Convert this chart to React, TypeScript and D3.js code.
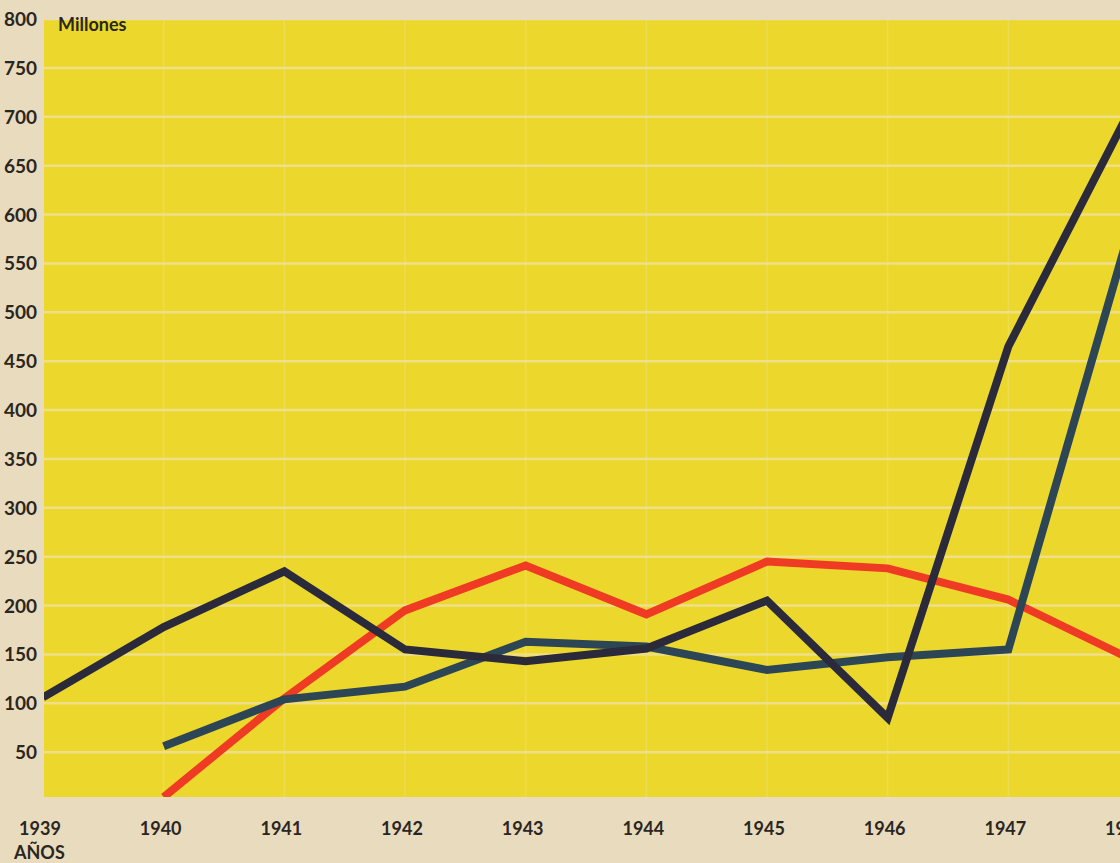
import * as d3 from "d3";

const YEARS = [1939, 1940, 1941, 1942, 1943, 1944, 1945, 1946, 1947, 1948];
const Y_TICKS = [50, 100, 150, 200, 250, 300, 350, 400, 450, 500, 550, 600, 650, 700, 750, 800];

// millones (null = no value that year)
const BLACK = [106, 178, 235, 155, 143, 156, 205, 85, 465, 705];
const BLUE = [null, 56, 104, 117, 163, 158, 134, 147, 155, 582];
const RED = [null, 4, 105, 195, 241, 191, 245, 238, 206, 146];

const SERIES = [
  { name: "rojo", values: RED, color: "#ef3b24" },
  { name: "azul", values: BLUE, color: "#2d4656" },
  { name: "negro", values: BLACK, color: "#2a2a3a" },
];

const W = 1120;
const H = 863;

export default function App() {
  const x = d3.scaleLinear().domain([1939, 1948]).range([43, 1129]);
  const y = d3.scaleLinear().domain([0, 800]).range([801, 19]);
  const plotLeft = 44;
  const plotTop = y(800) + 1;
  const plotBottom = y(0) - 4;

  const line = d3
    .line<number | null>()
    .defined((d) => d !== null)
    .x((_, i) => x(YEARS[i]))
    .y((d) => y(d as number));

  const font = "Lato, 'Open Sans', sans-serif";

  return (
    <svg
      width={W}
      height={H}
      style={{ position: "absolute", left: 0, top: 0, display: "block" }}
    >
      <defs>
        <clipPath id="plot">
          <rect x={plotLeft} y={plotTop} width={W - plotLeft} height={plotBottom - plotTop} />
        </clipPath>
      </defs>
      <rect width={W} height={H} fill="#e9dbbd" />
      <rect
        x={plotLeft}
        y={plotTop}
        width={W - plotLeft}
        height={plotBottom - plotTop}
        fill="#ecd82c"
      />
      <g clipPath="url(#plot)">
        {YEARS.slice(1).map((yr) => (
          <line
            key={yr}
            x1={x(yr)}
            x2={x(yr)}
            y1={plotTop}
            y2={plotBottom}
            stroke="#efe39a"
            strokeWidth={1.5}
            opacity={0.35}
          />
        ))}
        {Y_TICKS.map((t) => (
          <line
            key={t}
            x1={plotLeft}
            x2={W}
            y1={y(t)}
            y2={y(t)}
            stroke="#f0e2a6"
            strokeWidth={2.5}
            opacity={0.75}
          />
        ))}
        {SERIES.map((s) => (
          <path
            key={s.name}
            d={line(s.values) ?? ""}
            fill="none"
            stroke={s.color}
            strokeWidth={8}
            strokeLinejoin="miter"
            strokeLinecap="butt"
          />
        ))}
      </g>
      <g fontFamily={font} fontWeight={700} fill="#2a2622">
        {Y_TICKS.map((t) => (
          <text key={t} x={37} y={y(t) + 7} fontSize={19} textAnchor="end">
            {t}
          </text>
        ))}
        {YEARS.map((yr) => (
          <text key={yr} x={x(yr) - 3} y={835} fontSize={18} textAnchor="middle">
            {yr}
          </text>
        ))}
        <text x={14} y={859} fontSize={18}>
          AÑOS
        </text>
        <text x={58} y={31} fontSize={18}>
          Millones
        </text>
      </g>
    </svg>
  );
}
